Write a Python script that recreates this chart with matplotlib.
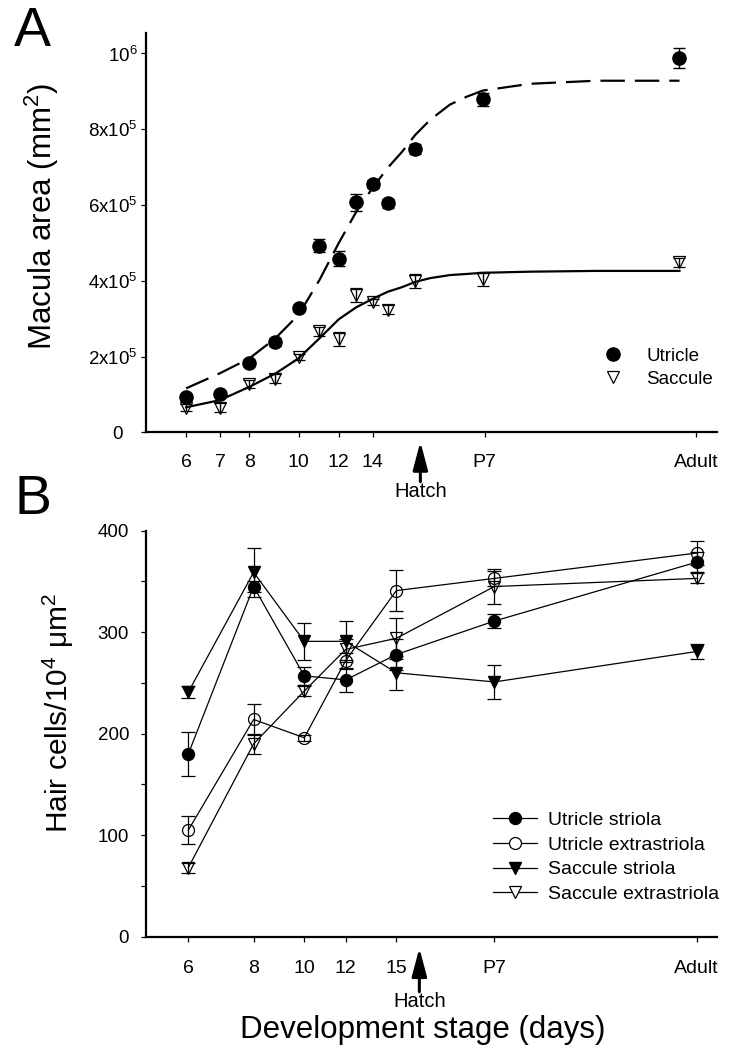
import matplotlib
matplotlib.use("Agg")
import matplotlib.pyplot as plt
from matplotlib.ticker import NullLocator, FixedLocator
from matplotlib.lines import Line2D

plt.rcParams['font.family'] = ['Liberation Sans', 'DejaVu Sans']
plt.rcParams['mathtext.fontset'] = 'custom'
plt.rcParams['mathtext.rm'] = 'Liberation Sans'
plt.rcParams['mathtext.it'] = 'Liberation Sans:italic'
plt.rcParams['mathtext.bf'] = 'Liberation Sans:bold'

# ---------------- Panel A data ----------------
a_days = [6, 7, 8, 9, 10, 11, 12, 13, 14, 15, 17, 23.1, 56.5]
utricle_area = [0.94e5, 1.00e5, 1.84e5, 2.39e5, 3.27e5, 4.92e5, 4.58e5, 6.07e5,
                6.55e5, 6.05e5, 7.47e5, 8.79e5, 9.88e5]
utricle_err = [0.8e4, 0.8e4, 0.8e4, 1.0e4, 0.8e4, 1.7e4, 2.0e4, 2.3e4,
               1.0e4, 1.2e4, 1.3e4, 1.7e4, 2.7e4]
saccule_area = [0.65e5, 0.65e5, 1.27e5, 1.42e5, 2.00e5, 2.67e5, 2.46e5, 3.62e5,
                3.45e5, 3.23e5, 4.00e5, 4.04e5, 4.49e5]
saccule_err = [1.0e4, 1.2e4, 1.0e4, 1.2e4, 0.8e4, 1.2e4, 1.8e4, 1.8e4,
               0.8e4, 1.2e4, 1.8e4, 1.8e4, 1.2e4]

# fitted curves
fit_days = [6, 7, 8, 9, 10, 11, 12, 13, 14, 15, 16, 17, 18.2, 19.9, 21.5, 23.1,
            28.7, 38.7, 56.5]
utricle_fit = [1.16e5, 1.56e5, 1.95e5, 2.48e5, 3.10e5, 4.02e5, 4.99e5, 5.82e5, 6.45e5,
               6.98e5, 7.40e5, 7.85e5, 8.25e5, 8.65e5, 8.86e5, 9.02e5, 9.20e5, 9.28e5,
               9.28e5]
saccule_fit = [0.66e5, 0.85e5, 1.20e5, 1.55e5, 1.95e5, 2.48e5, 2.98e5, 3.30e5, 3.52e5,
               3.71e5, 3.83e5, 3.97e5, 4.07e5, 4.15e5, 4.18e5, 4.21e5, 4.24e5, 4.26e5,
               4.26e5]

a_tick_pos = [6, 7, 8, 10, 12, 14, 23.3, 61]
a_tick_lab = ['6', '7', '8', '10', '12', '14', 'P7', 'Adult']
a_ytick_pos = [0, 2e5, 4e5, 6e5, 8e5, 1e6]
a_ytick_lab = ['0', r'$\mathregular{2x10^{5}}$', r'$\mathregular{4x10^{5}}$',
               r'$\mathregular{6x10^{5}}$', r'$\mathregular{8x10^{5}}$', r'$\mathregular{10^{6}}$']
a_hatch = 17.4

# ---------------- Panel B data ----------------
b_days = [6, 8, 10, 12, 15, 23.1, 56.3]
utr_striola = [180, 345, 257, 253, 278, 311, 369]
utr_striola_err = [22, 5, 9, 12, 15, 7, 10]
utr_extra = [105, 214, 196, 272, 341, 353, 378]
utr_extra_err = [14, 15, 3, 8, 20, 7, 12]
sac_striola = [241, 359, 291, 291, 260, 251, 281]
sac_striola_err = [6, 24, 18, 20, 17, 17, 7]
sac_extra = [68, 190, 242, 283, 294, 345, 353]
sac_extra_err = [5, 10, 5, 10, 20, 17, 5]

b_tick_pos = [6, 8, 10, 12, 15, 23.1, 56.3]
b_tick_lab = ['6', '8', '10', '12', '15', 'P7', 'Adult']
b_hatch = 16.6

W, H = 731, 1053
fig = plt.figure(figsize=(W / 100, H / 100), dpi=100)
axA = fig.add_axes([146 / W, 1 - 432.3 / H, 571 / W, 399.3 / H])
axB = fig.add_axes([146 / W, 1 - 936.7 / H, 570.7 / W, 406 / H])

for ax in (axA, axB):
    ax.spines['top'].set_visible(False)
    ax.spines['right'].set_visible(False)
    for s in ('left', 'bottom'):
        ax.spines[s].set_linewidth(1.6)
    ax.set_xscale('log')
    ax.xaxis.set_minor_locator(NullLocator())
    ax.tick_params(which='both', direction='out', length=3.8, width=0.9, color='black')

# ---------- Panel A ----------
axA.plot(fit_days, utricle_fit, color='black', lw=1.6, ls=(0, (11, 4.5)), zorder=2)
axA.plot(fit_days, saccule_fit, color='black', lw=1.6, ls='-', zorder=2)
axA.errorbar(a_days, utricle_area, yerr=utricle_err, fmt='o', ms=9.5, mfc='black',
             mec='black', ecolor='black', elinewidth=1.0, capsize=4.5, capthick=1.0,
             zorder=3, label='Utricle')
axA.errorbar(a_days, saccule_area, yerr=saccule_err, fmt='v', ms=9, mfc='none',
             mec='black', mew=0.9, ecolor='black', elinewidth=1.0, capsize=4.5,
             capthick=1.0, zorder=3, label='Saccule')
axA.set_xlim(5.0, 67)
axA.set_ylim(0, 1.054e6)
axA.set_xticks(a_tick_pos)
axA.set_xticklabels(a_tick_lab, fontsize=14)
axA.xaxis.set_minor_locator(NullLocator())
axA.set_yticks(a_ytick_pos)
axA.set_yticklabels(a_ytick_lab, fontsize=13.5)
axA.tick_params(axis='x', pad=11.5)
axA.tick_params(axis='y', pad=2.4)
axA.yaxis.get_major_ticks()[0].set_pad(13)

hA = [Line2D([], [], ls='none', marker='o', ms=9.5, mfc='black', mec='black'),
      Line2D([], [], ls='none', marker='v', ms=9, mfc='none', mec='black', mew=0.9)]
axA.legend(hA, ['Utricle', 'Saccule'], loc='upper left', bbox_to_anchor=(0.801, 0.212),
           frameon=False, fontsize=13.5, handlelength=1.0, handletextpad=1.3,
           labelspacing=0.3, borderpad=0, borderaxespad=0)

trA = axA.get_xaxis_transform()
axA.annotate('', xy=(a_hatch, -0.0235), xytext=(a_hatch, -0.1237), xycoords=trA,
             textcoords=trA, annotation_clip=False,
             arrowprops=dict(arrowstyle='-|>,head_length=1.7,head_width=0.45',
                             lw=2.2, color='black', shrinkA=0, shrinkB=0, mutation_scale=10))
axA.text(a_hatch, -0.149, 'Hatch', transform=trA, ha='center', va='center', fontsize=14.5)

# ---------- Panel B ----------
common = dict(color='black', ecolor='black', elinewidth=0.9, capsize=5, capthick=0.9,
              lw=0.9, zorder=3)
axB.errorbar(b_days, utr_striola, yerr=utr_striola_err, marker='o', ms=8.6, mfc='black',
             mec='black', label='Utricle striola', **common)
axB.errorbar(b_days, utr_extra, yerr=utr_extra_err, marker='o', ms=8.6, mfc='none',
             mec='black', mew=0.9, label='Utricle extrastriola', **common)
axB.errorbar(b_days, sac_striola, yerr=sac_striola_err, marker='v', ms=8.6, mfc='black',
             mec='black', label='Saccule striola', **common)
axB.errorbar(b_days, sac_extra, yerr=sac_extra_err, marker='v', ms=8.6, mfc='none',
             mec='black', mew=0.9, label='Saccule extrastriola', **common)
axB.set_xlim(4.98, 61.5)
axB.set_ylim(0, 400)
axB.set_xticks(b_tick_pos)
axB.set_xticklabels(b_tick_lab, fontsize=14)
axB.xaxis.set_minor_locator(NullLocator())
axB.set_yticks([0, 100, 200, 300, 400])
axB.set_yticklabels(['0', '100', '200', '300', '400'], fontsize=13.5)
axB.yaxis.set_minor_locator(FixedLocator([50, 150, 250, 350]))
axB.tick_params(axis='x', pad=13)
axB.tick_params(axis='y', pad=8.4)

hB = [Line2D([], [], color='black', lw=0.9, marker='o', ms=8.6, mfc='black', mec='black'),
      Line2D([], [], color='black', lw=0.9, marker='o', ms=8.6, mfc='white', mec='black', mew=0.9),
      Line2D([], [], color='black', lw=0.9, marker='v', ms=8.6, mfc='black', mec='black'),
      Line2D([], [], color='black', lw=0.9, marker='v', ms=8.6, mfc='white', mec='black', mew=0.9)]
axB.legend(hB, ['Utricle striola', 'Utricle extrastriola', 'Saccule striola',
                'Saccule extrastriola'], loc='upper left', bbox_to_anchor=(0.608, 0.308),
           frameon=False, fontsize=14, handlelength=2.27, handletextpad=0.57,
           labelspacing=0.36, borderpad=0, borderaxespad=0)

trB = axB.get_xaxis_transform()
axB.annotate('', xy=(b_hatch, -0.0278), xytext=(b_hatch, -0.1355), xycoords=trB,
             textcoords=trB, annotation_clip=False,
             arrowprops=dict(arrowstyle='-|>,head_length=1.7,head_width=0.45',
                             lw=2.2, color='black', shrinkA=0, shrinkB=0, mutation_scale=10))
axB.text(b_hatch, -0.160, 'Hatch', transform=trB, ha='center', va='center', fontsize=14.5)

# ---------- labels ----------
fig.text(42 / W, 1 - 217 / H, r'Macula area (mm$^{2}$)', rotation=90, ha='center',
         va='center', fontsize=22.5)
fig.text(58 / W, 1 - 713 / H, r'Hair cells/10$^{4}$ μm$^{2}$', rotation=90, ha='center',
         va='center', fontsize=21.5)
fig.text(423 / W, 1 - 1030 / H, 'Development stage (days)', ha='center', va='center',
         fontsize=22.5)
fig.text(32 / W, 1 - 32 / H, 'A', ha='center', va='center', fontsize=40)
fig.text(33 / W, 1 - 500 / H, 'B', ha='center', va='center', fontsize=40)

fig.savefig('out.png', dpi=100)
